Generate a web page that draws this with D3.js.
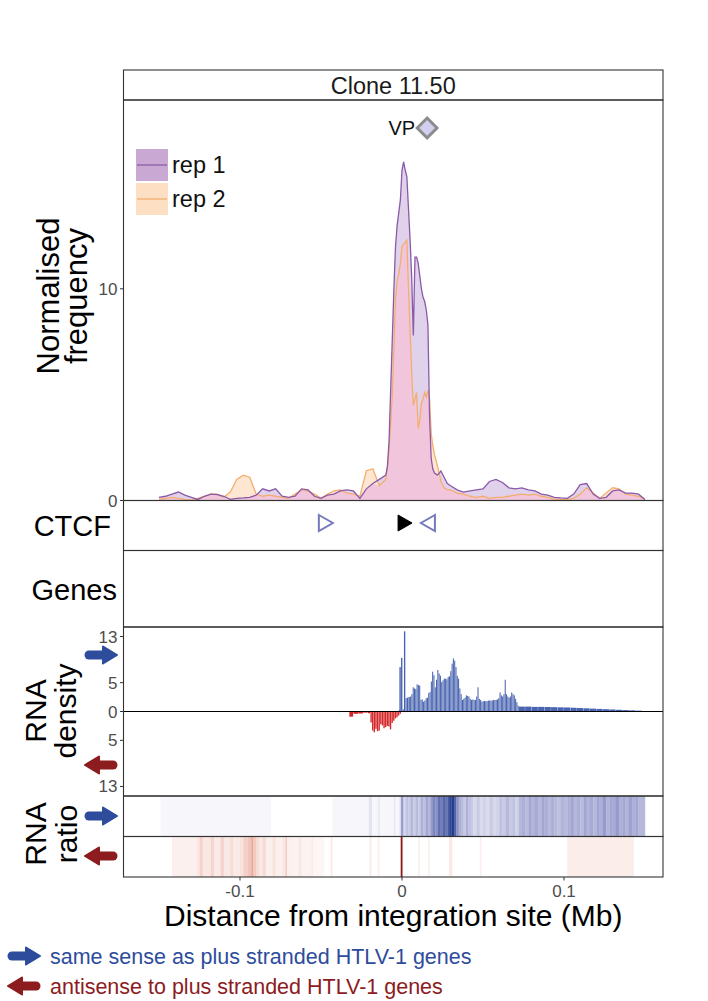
<!DOCTYPE html>
<html><head><meta charset="utf-8">
<script src="https://cdn.jsdelivr.net/npm/d3@7"></script>
<style>body{margin:0;background:#fff} svg{display:block} text{font-family:"Liberation Sans",Arial,sans-serif}</style>
</head><body><svg id="c" width="708" height="1001"></svg>
<script>
// ---------- DATA ----------
const title = "Clone 11.50";
const seriesNames = ["rep 1", "rep 2"];
const xTicks = [-0.1, 0, 0.1];
const xTickLabels = ["-0.1", "0", "0.1"];
const freqTicks = [0, 10];
const densTicks = [13, 5, 0, -5, -13];

const positions = [
 -0.150,-0.146,-0.142,-0.138,-0.134,-0.130,-0.126,-0.122,-0.118,-0.114,
 -0.110,-0.106,-0.102,-0.098,-0.094,-0.090,-0.086,-0.082,-0.078,-0.074,
 -0.070,-0.066,-0.062,-0.058,-0.054,-0.050,-0.046,-0.042,-0.038,-0.034,
 -0.030,-0.026,-0.022,-0.018,-0.014,
 -0.010,-0.009,-0.008,-0.007,-0.006,-0.005,-0.004,-0.003,-0.002,-0.001,
 0.000,0.001,0.002,0.003,0.004,0.005,0.006,0.007,0.008,0.009,
 0.010,0.011,0.012,0.013,0.014,0.015,0.016,0.017,0.018,0.019,0.020,
 0.022,0.024,0.026,0.028,0.030,
 0.034,0.038,0.042,0.046,0.050,0.054,0.058,0.062,0.066,0.070,
 0.074,0.078,0.082,0.086,0.090,0.094,0.098,0.102,0.106,0.110,
 0.114,0.118,0.122,0.126,0.130,0.134,0.138,0.142,0.146,0.150];
const rep1 = [
 0.15,0.2,0.3,0.4,0.25,0.15,0.05,0.2,0.3,0.28,
 0.2,0.05,0.1,0.12,0.15,0.25,0.55,0.45,0.55,0.2,
 0.15,0.2,0.55,0.5,0.2,0.1,0.25,0.3,0.45,0.5,
 0.45,0.1,0.55,0.8,1.0,
 1.2,1.6,2.8,5.2,7.6,10.0,12.0,13.0,13.6,14.2,
 15.6,16.0,15.6,15.3,13.8,12.3,10.5,7.8,11.5,11.5,
 11.2,10.6,10.0,9.6,9.4,9.0,8.3,4.0,2.0,1.5,1.3,
 1.2,1.4,1.1,0.8,0.7,
 0.5,0.4,0.45,0.5,0.55,0.9,1.0,0.85,0.6,0.55,
 0.6,0.5,0.45,0.3,0.25,0.15,0.12,0.1,0.3,0.75,
 0.8,0.3,0.1,0.15,0.45,0.5,0.35,0.35,0.3,0.05];
const rep2 = [
 0.05,0.1,0.15,0.1,0.05,0.02,0.1,0.2,0.3,0.3,
 0.15,0.4,1.0,1.2,1.1,0.3,0.2,0.25,0.2,0.15,
 0.1,0.3,0.5,0.45,0.3,0.1,0.3,0.45,0.5,0.35,
 0.3,0.2,1.4,1.5,0.7,
 1.0,1.6,2.4,3.6,5.0,7.2,9.5,10.4,10.7,11.2,
 12.0,12.1,12.2,12.3,10.0,8.0,6.0,4.5,4.8,5.1,
 3.4,3.8,4.6,4.8,5.1,4.9,5.2,4.8,3.2,2.6,2.2,
 1.6,0.9,0.6,0.5,0.5,
 0.35,0.3,0.2,0.15,0.2,0.1,0.15,0.15,0.2,0.25,
 0.3,0.25,0.3,0.2,0.15,0.05,0.05,0.05,0.1,0.3,
 0.6,0.35,0.1,0.35,0.6,0.55,0.3,0.25,0.2,0.05];

const vpPos = 0.0155, vpValue = 17.6;

const ctcfPos = [-0.047, 0.0019, 0.0160];
const ctcfDir = ["right", "right", "left"];
const ctcfFilled = [false, true, false];

// RNA density, plus strand: bin starts, values, last bin end
const rnaPlusStart = [
 -0.0020,-0.0016,-0.0006,0.0004,0.0012,0.0022,0.0030,0.0040,0.0050,0.0058,
 0.0066,0.0074,0.0082,0.0090,0.0098,0.0106,0.0114,0.0122,0.0130,0.0138,
 0.0146,0.0154,0.0162,0.0170,0.0178,0.0186,0.0194,0.0202,0.0210,0.0218,
 0.0226,0.0234,0.0242,0.0250,0.0258,0.0266,0.0274,0.0282,0.0290,0.0298,
 0.0306,0.0314,0.0322,0.0330,0.0338,0.0346,0.0354,0.0362,0.0370,0.0378,
 0.0386,0.0394,0.0402,0.0410,0.0418,0.0426,0.0434,0.0442,0.0450,0.0458,
 0.0466,0.0474,0.0482,0.0490,0.0498,0.0506,0.0514,0.0522,0.0530,0.0538,
 0.0546,0.0554,0.0562,0.0570,0.0578,0.0586,0.0594,0.0602,0.0610,0.0618,
 0.0626,0.0634,0.0642,0.0650,0.0658,0.0666,0.0674,0.0682,0.0690,0.0698,
 0.0706,0.0714,0.0722,0.0760,0.0800,0.0840,0.0880,0.0920,0.0960,0.1000,
 0.1040,0.1080,0.1120,0.1160,0.1200,0.1240,0.1280,0.1320,0.1360,0.1400,
 0.1440,0.1480];
const rnaPlusVal = [
 0.3,7.7,9.3,0.4,13.9,2.3,2.4,2.5,2.6,3.0,
 4.2,4.0,3.9,4.7,4.6,4.5,2.0,2.1,1.7,1.9,
 2.3,2.4,3.2,3.4,5.2,6.9,6.3,4.2,5.5,7.2,
 6.6,6.2,5.1,5.4,5.7,5.7,5.6,6.0,6.1,7.0,
 8.3,9.2,8.8,7.7,6.2,5.7,4.0,3.0,2.0,2.2,
 2.4,2.8,2.7,2.6,2.2,2.0,2.1,2.0,2.0,2.6,
 4.2,2.2,2.0,1.7,1.8,1.8,1.8,1.8,1.9,1.9,
 1.9,1.9,2.0,2.0,2.0,2.1,2.3,3.3,2.8,2.6,
 3.0,5.5,3.0,2.6,2.4,2.6,3.3,3.0,2.8,2.2,
 1.6,1.0,0.85,0.85,0.8,0.8,0.78,0.75,0.72,0.7,
 0.65,0.6,0.55,0.5,0.45,0.4,0.35,0.3,0.25,0.2,
 0.15,0.08];
const rnaPlusEnd = 0.1510;

// RNA density, minus strand
const rnaMinusStart = [
 -0.0325,-0.0300,-0.0270,-0.0240,-0.0210,-0.0195,-0.0185,-0.0175,-0.0165,-0.0155,
 -0.0145,-0.0135,-0.0125,-0.0115,-0.0105,-0.0095,-0.0085,-0.0075,-0.0065,-0.0055,
 -0.0045,-0.0035,-0.0025,-0.0015];
const rnaMinusVal = [
 0.9,0.4,0.35,0.2,0.3,1.9,3.3,3.6,3.0,3.4,
 3.3,2.2,2.4,2.9,2.7,2.5,2.6,3.1,2.0,1.6,
 1.2,1.0,0.7,0.4];
const rnaMinusEnd = -0.0005;

// RNA ratio, plus strand tiles (0..1)
const ratioPlusStart = [
 -0.149,-0.081,-0.043,-0.0205,-0.0185,-0.015,-0.0135,-0.005,-0.004,-0.0015,
 -0.0005,0.0005,0.0015,0.0025,0.0040,0.0055,0.0070,0.0085,0.0100,0.0115,
 0.0130,0.0145,0.0160,0.0175,0.0190,0.0205,0.0220,0.0235,0.0250,0.0265,
 0.0280,0.0295,0.0305,0.0320,0.0335,0.0350,0.0365,0.0380,0.0395,0.0410,
 0.0425,0.0440,0.0460,0.0480,0.0500,0.0520,0.0540,0.0560,0.0580,0.0600,
 0.0620,0.0640,0.0660,0.0680,0.0700,0.0720,0.0740,0.0760,0.0780,
 0.080,0.082,0.084,0.086,0.088,0.090,0.092,0.094,0.096,0.098,
 0.100,0.102,0.104,0.106,0.108,0.110,0.112,0.114,0.116,0.118,
 0.120,0.122,0.124,0.126,0.128,0.130,0.132,0.134,0.136,0.138,
 0.140,0.142,0.144,0.146];
const ratioPlusVal = [
 0.05,0,0.05,0.15,0.05,0.12,0.05,0.14,0.05,0.2,
 0.6,0.3,0.25,0.35,0.3,0.4,0.28,0.38,0.3,0.45,
 0.35,0.5,0.4,0.55,0.65,0.6,0.75,0.7,0.8,0.72,
 0.85,0.95,1.0,0.8,0.6,0.45,0.4,0.3,0.45,0.35,
 0.3,0.22,0.3,0.2,0.25,0.2,0.3,0.22,0.25,0.35,
 0.3,0.4,0.3,0.35,0.25,0.4,0.45,0.38,0.5,
 0.42,0.48,0.4,0.5,0.45,0.38,0.45,0.4,0.35,0.42,
 0.38,0.45,0.5,0.4,0.45,0.38,0.5,0.42,0.48,0.4,
 0.5,0.45,0.55,0.42,0.5,0.48,0.55,0.45,0.5,0.42,
 0.52,0.45,0.5,0.4];
const ratioPlusEnd = 0.150;

// RNA ratio, minus strand tiles (0..1)
const ratioMinusStart = [
 -0.1420,-0.1270,-0.1250,-0.1230,-0.1180,-0.1160,-0.1120,-0.1100,-0.1060,-0.1040,
 -0.1000,-0.0980,-0.0950,-0.0930,-0.0920,-0.0900,-0.0880,-0.0860,-0.0840,-0.0800,
 -0.0780,-0.0740,-0.0720,-0.0710,-0.0680,-0.0640,-0.0620,-0.0560,-0.0550,-0.0480,
 -0.0440,-0.0430,-0.0200,-0.0190,-0.0150,-0.0140,-0.0008,0.0002,0.0100,0.0110,
 0.0160,0.0170,0.0290,0.0310,0.0480,0.0490,0.1020];
const ratioMinusVal = [
 0.05,0.08,0.15,0.08,0.14,0.07,0.15,0.08,0.12,0.07,
 0.1,0.16,0.2,0.3,0.18,0.12,0.07,0.12,0.05,0.1,
 0.05,0.08,0.18,0.05,0.04,0.08,0.04,0.07,0.03,0,
 0.07,0,0.07,0,0.05,0,1.0,0,0.05,0,
 0.05,0,0.07,0,0.05,0,0.06];
const ratioMinusEnd = 0.1430;

const legendNote = ["same sense as plus stranded HTLV-1 genes", "antisense to plus stranded HTLV-1 genes"];

// ---------- LAYOUT ----------
const svg = d3.select("#c");
const L = 123.5, R = 663;
const P = {strip:[70,100], main:[100,500.5], ctcf:[500.5,550.5], genes:[550.5,627], dens:[627,796], rp:[796,836.5], rm:[836.5,877]};
const x = d3.scaleLinear().domain([-0.1719, 0.1611]).range([L, R]);
const yM = d3.scaleLinear().domain([0, 18.92]).range([P.main[1], P.main[0]]);
const yD = d3.scaleLinear().domain([-14.65, 14.65]).range([P.dens[1], P.dens[0]]);
const blueC = "#2d4c9c", redC = "#8c1c1e";
const tickCol = "#4d4d4d";

svg.append("rect").attr("width",708).attr("height",1001).attr("fill","#fff");

const defs = svg.append("defs");
Object.entries(P).forEach(([k,[t,b]])=>{
  defs.append("clipPath").attr("id","clip-"+k).append("rect").attr("x",L).attr("y",t).attr("width",R-L).attr("height",b-t);
});

// ----- main panel -----
const gM = svg.append("g").attr("clip-path","url(#clip-main)");
const rows = positions.map((p,i)=>({p, a:rep1[i], b:rep2[i]}));
const aA = d3.area().x(d=>x(d.p)).y0(yM(0)).y1(d=>yM(d.a));
const aB = d3.area().x(d=>x(d.p)).y0(yM(0)).y1(d=>yM(d.b));
const aMin = d3.area().x(d=>x(d.p)).y0(yM(0)).y1(d=>yM(Math.min(d.a,d.b)));
gM.append("path").datum(rows).attr("d",aA).attr("fill","#e0d2ea");
gM.append("path").datum(rows).attr("d",aB).attr("fill","#fde7d2");
gM.append("path").datum(rows).attr("d",aMin).attr("fill","#f1c6dc");
gM.append("path").datum(rows).attr("d",d3.line().x(d=>x(d.p)).y(d=>yM(d.b))).attr("fill","none").attr("stroke","#f5ad6e").attr("stroke-width",1.3);
gM.append("path").datum(rows).attr("d",d3.line().x(d=>x(d.p)).y(d=>yM(d.a))).attr("fill","none").attr("stroke","#8a5aa8").attr("stroke-width",1.3);

// VP diamond
gM.append("path").attr("d",d3.symbol().type(d3.symbolDiamond2).size(250)())
  .attr("transform",`translate(${x(vpPos)},${yM(vpValue)})`)
  .attr("fill","#d0d0ee").attr("stroke","#8c8c8c").attr("stroke-width",3);
svg.append("text").attr("x",x(vpPos)-12).attr("y",yM(vpValue)+7).attr("text-anchor","end")
  .attr("font-size",20).attr("fill","#111").text("VP");

// legend
const legFill = ["#c9a9d3","#fde0c4"], legLine = ["#8a5aa8","#f5ad6e"];
seriesNames.forEach((s,i)=>{
  const y0 = 149 + i*34;
  svg.append("rect").attr("x",136).attr("y",y0).attr("width",32).attr("height",32).attr("fill",legFill[i]);
  svg.append("line").attr("x1",137).attr("x2",167).attr("y1",y0+16).attr("y2",y0+16).attr("stroke",legLine[i]).attr("stroke-width",1.3);
  svg.append("text").attr("x",172).attr("y",y0+24).attr("font-size",23.5).attr("fill","#111").text(s);
});

// main y axis
freqTicks.forEach(t=>{
  svg.append("line").attr("x1",L-3.5).attr("x2",L).attr("y1",yM(t)).attr("y2",yM(t)).attr("stroke","#333");
  svg.append("text").attr("x",L-6).attr("y",yM(t)+6).attr("text-anchor","end").attr("font-size",17).attr("fill",tickCol).text(t);
});

// ----- CTCF -----
const ctY = 523;
ctcfPos.forEach((p,i)=>{
  const cx = x(p), w = 14, h = 16, s = ctcfDir[i]==="right" ? 1 : -1;
  const pts = [[cx - s*w/2, ctY-h/2],[cx + s*w/2, ctY],[cx - s*w/2, ctY+h/2]];
  svg.append("path").attr("d","M"+pts.map(q=>q.join(",")).join("L")+"Z")
    .attr("fill", ctcfFilled[i] ? "#000" : "none")
    .attr("stroke", ctcfFilled[i] ? "#000" : "#7779bd")
    .attr("stroke-width", ctcfFilled[i] ? 1 : 2);
});

// ----- RNA density -----
const gD = svg.append("g").attr("clip-path","url(#clip-dens)");
const plusBins = rnaPlusStart.map((s,i)=>({s, e: i<rnaPlusStart.length-1 ? rnaPlusStart[i+1] : rnaPlusEnd, v: rnaPlusVal[i]}));
const minusBins = rnaMinusStart.map((s,i)=>({s, e: i<rnaMinusStart.length-1 ? rnaMinusStart[i+1] : rnaMinusEnd, v: rnaMinusVal[i]}));
gD.selectAll("rect.p").data(plusBins).join("rect").attr("class","p")
  .attr("x",d=>x(d.s)).attr("width",d=>Math.max(0.8, x(d.e)-x(d.s)-0.25))
  .attr("y",d=>yD(d.v)).attr("height",d=>yD(0)-yD(d.v)).attr("fill","#4964b0");
gD.selectAll("rect.m").data(minusBins).join("rect").attr("class","m")
  .attr("x",d=>x(d.s)).attr("width",d=>Math.max(0.8, x(d.e)-x(d.s)-0.25))
  .attr("y",yD(0)).attr("height",d=>yD(-d.v)-yD(0)).attr("fill","#d4282a");
svg.append("line").attr("x1",L).attr("x2",R).attr("y1",yD(0)).attr("y2",yD(0)).attr("stroke","#000").attr("stroke-width",1.2);
densTicks.forEach(t=>{
  svg.append("line").attr("x1",L-3.5).attr("x2",L).attr("y1",yD(t)).attr("y2",yD(t)).attr("stroke","#333");
  svg.append("text").attr("x",L-6).attr("y",yD(t)+6).attr("text-anchor","end").attr("font-size",17).attr("fill",tickCol).text(Math.abs(t));
});

// ----- RNA ratio -----
const blueScale = d3.scaleLinear().domain([0,0.5,1]).range(["#ffffff","#a3a6d2","#1f3b8c"]);
const redScale = d3.scaleLinear().domain([0,0.3,1]).range(["#ffffff","#e9a796","#8b1a1a"]);
const rpTiles = ratioPlusStart.map((s,i)=>({s, e: i<ratioPlusStart.length-1 ? ratioPlusStart[i+1] : ratioPlusEnd, v: ratioPlusVal[i]})).filter(d=>d.v>0);
const rmTiles = ratioMinusStart.map((s,i)=>({s, e: i<ratioMinusStart.length-1 ? ratioMinusStart[i+1] : ratioMinusEnd, v: ratioMinusVal[i]})).filter(d=>d.v>0);
svg.append("g").attr("clip-path","url(#clip-rp)").selectAll("rect").data(rpTiles).join("rect")
  .attr("x",d=>x(d.s)).attr("width",d=>x(d.e)-x(d.s)+0.2).attr("y",P.rp[0]).attr("height",P.rp[1]-P.rp[0])
  .attr("fill",d=>blueScale(d.v));
svg.append("g").attr("clip-path","url(#clip-rm)").selectAll("rect").data(rmTiles).join("rect")
  .attr("x",d=>x(d.s)).attr("width",d=>x(d.e)-x(d.s)+0.2).attr("y",P.rm[0]).attr("height",P.rm[1]-P.rm[0])
  .attr("fill",d=>redScale(d.v));

// ----- panel borders -----
Object.entries(P).forEach(([k,[t,b]])=>{
  svg.append("rect").attr("x",L).attr("y",t).attr("width",R-L).attr("height",b-t)
    .attr("fill","none").attr("stroke","#333").attr("stroke-width",1.1);
});
svg.append("text").attr("x",(L+R)/2).attr("y",94).attr("text-anchor","middle").attr("font-size",23.5).attr("fill","#1a1a1a").text(title);

// ----- x axis -----
const xAxisY = P.rm[1];
xTicks.forEach((t,i)=>{
  svg.append("line").attr("x1",x(t)).attr("x2",x(t)).attr("y1",xAxisY).attr("y2",xAxisY+3.5).attr("stroke","#333");
  svg.append("text").attr("x",x(t)).attr("y",xAxisY+20).attr("text-anchor","middle").attr("font-size",17).attr("fill",tickCol).text(xTickLabels[i]);
});
svg.append("text").attr("x",(L+R)/2).attr("y",926).attr("text-anchor","middle").attr("font-size",30).attr("fill","#000")
  .text("Distance from integration site (Mb)");

// ----- y titles -----
function vtext(lines, cy, xs, size){
  lines.forEach((s,i)=>{
    svg.append("text").attr("transform",`translate(${xs[i]},${cy}) rotate(-90)`)
      .attr("text-anchor","middle").attr("font-size",size).attr("fill","#000").text(s);
  });
}
vtext(["Normalised","frequency"], 296, [59, 87], 31);
vtext(["RNA","density"], 711, [46, 76], 30);
vtext(["RNA","ratio"], 834, [46, 77], 30);
svg.append("text").attr("x",111).attr("y",536).attr("text-anchor","end").attr("font-size",29).attr("fill","#000").text("CTCF");
svg.append("text").attr("x",117).attr("y",600).attr("text-anchor","end").attr("font-size",29).attr("fill","#000").text("Genes");

// ----- arrows -----
function arrow(cx, cy, dir, col, len){
  const s = dir==="right" ? 1 : -1, h = len/2;
  const g = svg.append("g");
  g.append("line").attr("x1",cx - s*(h-4)).attr("x2",cx + s*(h-12)).attr("y1",cy).attr("y2",cy)
    .attr("stroke",col).attr("stroke-width",9).attr("stroke-linecap","round");
  g.append("path").attr("d",`M${cx+s*(h-14)},${cy-8.5}L${cx+s*h},${cy}L${cx+s*(h-14)},${cy+8.5}Z`)
    .attr("fill",col).attr("stroke",col).attr("stroke-width",2).attr("stroke-linejoin","round");
}
arrow(101, 655, "right", blueC, 32);
arrow(101, 765, "left", redC, 32);
arrow(101, 816, "right", blueC, 32);
arrow(101, 856, "left", redC, 32);
arrow(24, 956, "right", blueC, 32);
arrow(24, 986, "left", redC, 32);
svg.append("text").attr("x",50).attr("y",964).attr("font-size",21.5).attr("fill",blueC).text(legendNote[0]);
svg.append("text").attr("x",50).attr("y",994).attr("font-size",21.5).attr("fill",redC).text(legendNote[1]);
</script>
</body></html>
